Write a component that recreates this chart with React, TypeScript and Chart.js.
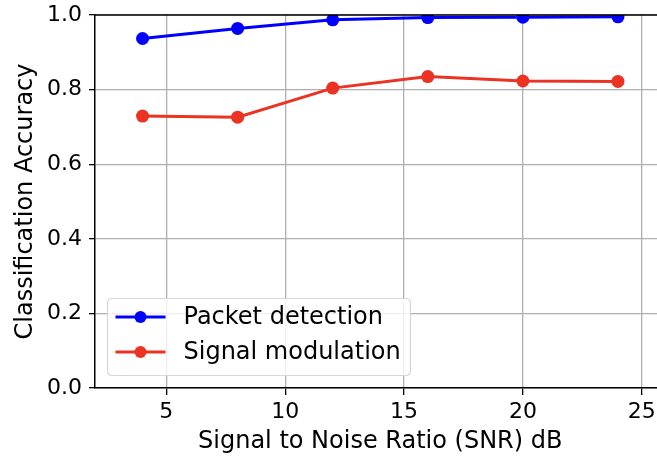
import React, { useEffect, useRef } from "react";
import { Chart, registerables } from "chart.js";

Chart.register(...registerables);

const snr = [4, 8, 12, 16, 20, 24];
const packetDetection = [0.937, 0.964, 0.987, 0.993, 0.994, 0.995];
const signalModulation = [0.729, 0.726, 0.804, 0.835, 0.823, 0.822];
const seriesLabels = ["Packet detection", "Signal modulation"];
const seriesColors = ["#0000ff", "#ea3323"];
const xTicks = [5, 10, 15, 20, 25];
const yTicks = [0, 0.2, 0.4, 0.6, 0.8, 1.0];
const xTitle = "Signal to Noise Ratio (SNR) dB";
const yTitle = "Classification Accuracy";

const FONT = "'DejaVu Sans', sans-serif";

const mplPlugin = {
  id: "mplDecor",
  afterDraw(chart: any) {
    const ctx = chart.ctx;
    const area = chart.chartArea;
    ctx.save();
    // top spine
    ctx.strokeStyle = "#000";
    ctx.lineWidth = 1.5;
    ctx.beginPath();
    ctx.moveTo(area.left, area.top);
    ctx.lineTo(area.right, area.top);
    ctx.stroke();

    // legend (matplotlib style)
    const w = 303;
    const h = 77;
    const x0 = area.left + 12.5;
    const y0 = area.bottom - 13 - h + 0.5;
    const r = 5;
    ctx.beginPath();
    ctx.moveTo(x0 + r, y0);
    ctx.lineTo(x0 + w - r, y0);
    ctx.quadraticCurveTo(x0 + w, y0, x0 + w, y0 + r);
    ctx.lineTo(x0 + w, y0 + h - r);
    ctx.quadraticCurveTo(x0 + w, y0 + h, x0 + w - r, y0 + h);
    ctx.lineTo(x0 + r, y0 + h);
    ctx.quadraticCurveTo(x0, y0 + h, x0, y0 + h - r);
    ctx.lineTo(x0, y0 + r);
    ctx.quadraticCurveTo(x0, y0, x0 + r, y0);
    ctx.closePath();
    ctx.fillStyle = "rgba(255,255,255,0.8)";
    ctx.fill();
    ctx.strokeStyle = "#d6d6d6";
    ctx.lineWidth = 1.2;
    ctx.stroke();

    chart.data.datasets.forEach((ds: any, i: number) => {
      const cy = y0 + 18.5 + i * 35;
      ctx.strokeStyle = ds.borderColor;
      ctx.lineWidth = 3;
      ctx.beginPath();
      ctx.moveTo(x0 + 8, cy);
      ctx.lineTo(x0 + 58, cy);
      ctx.stroke();
      ctx.fillStyle = ds.borderColor;
      ctx.beginPath();
      ctx.arc(x0 + 33, cy, 6, 0, Math.PI * 2);
      ctx.fill();
      ctx.fillStyle = "#000";
      ctx.font = `24px ${FONT}`;
      ctx.textBaseline = "middle";
      ctx.textAlign = "left";
      ctx.fillText(ds.label, x0 + 76, cy + 1);
    });
    ctx.restore();
  },
};

export default function App() {
  const ref = useRef<HTMLCanvasElement | null>(null);

  useEffect(() => {
    if (!ref.current) return;
    Chart.defaults.font.family = FONT;
    Chart.defaults.color = "#000";
    const mk = (vals: number[]) => snr.map((x, i) => ({ x, y: vals[i] }));
    const chart = new Chart(ref.current, {
      type: "line",
      data: {
        datasets: [packetDetection, signalModulation].map((vals, i) => ({
          label: seriesLabels[i],
          data: mk(vals),
          borderColor: seriesColors[i],
          backgroundColor: seriesColors[i],
          pointBackgroundColor: seriesColors[i],
          pointBorderWidth: 0,
          pointRadius: 6.5,
          borderWidth: 3,
          tension: 0,
          fill: false,
          clip: 0,
        })),
      },
      options: {
        responsive: false,
        animation: false,
        layout: { padding: { top: 15, left: 0, right: 0, bottom: 0 } },
        plugins: {
          legend: { display: false },
          tooltip: { enabled: false },
        },
        scales: {
          x: {
            type: "linear",
            min: 2,
            max: 26,
            afterBuildTicks: (s: any) => {
              s.ticks = xTicks.map((v) => ({ value: v }));
            },
            afterFit: (s: any) => {
              s.height = 70;
              s.paddingLeft = 0;
              s.paddingRight = 0;
            },
            ticks: {
              font: { size: 22 },
              color: "#000",
              padding: 4,
              maxRotation: 0,
              autoSkip: false,
              callback: (v: any) => String(v),
            },
            grid: {
              color: "#b0b0b0",
              lineWidth: 1.3,
              tickColor: "#000",
              tickLength: 7,
              tickWidth: 1.3,
            },
            border: { display: true, color: "#000", width: 1.5 },
            title: {
              display: true,
              text: xTitle,
              font: { size: 24 },
              color: "#000",
              padding: { top: 0, bottom: 2 },
            },
          },
          y: {
            type: "linear",
            min: 0,
            max: 1,
            afterBuildTicks: (s: any) => {
              s.ticks = yTicks.map((v) => ({ value: v }));
            },
            afterFit: (s: any) => {
              s.width = 95;
              s.paddingTop = 0;
              s.paddingBottom = 0;
            },
            ticks: {
              font: { size: 22 },
              color: "#000",
              padding: 7,
              autoSkip: false,
              callback: (v: any) => Number(v).toFixed(1),
            },
            grid: {
              color: "#b0b0b0",
              lineWidth: 1.3,
              tickColor: "#000",
              tickLength: 6,
              tickWidth: 1.3,
            },
            border: { display: true, color: "#000", width: 1.5 },
            title: {
              display: true,
              text: yTitle,
              font: { size: 24 },
              color: "#000",
              padding: { top: 11, bottom: 0 },
            },
          },
        },
      },
      plugins: [mplPlugin],
    } as any);
    return () => chart.destroy();
  }, []);

  return (
    <div
      style={{
        position: "fixed",
        left: 0,
        top: 0,
        width: 657,
        height: 458,
        overflow: "hidden",
        background: "#fff",
      }}
    >
      <canvas ref={ref} width={672} height={458} style={{ display: "block" }} />
    </div>
  );
}
